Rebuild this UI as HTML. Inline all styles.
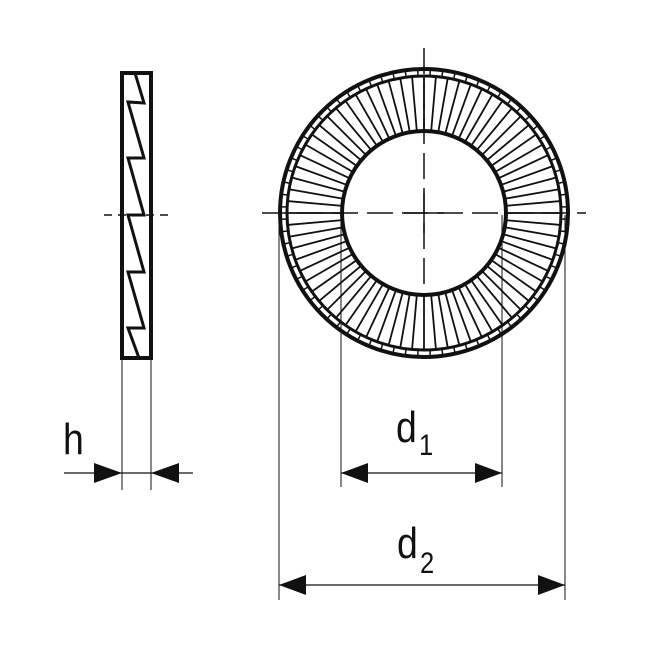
<!DOCTYPE html>
<html><head><meta charset="utf-8"><style>html,body{margin:0;padding:0;background:#fff}svg{display:block}text{font-family:"Liberation Sans",sans-serif;fill:#111}</style></head>
<body>
<svg id="s" width="650" height="650" viewBox="0 0 650 650" xmlns="http://www.w3.org/2000/svg">
<g stroke="#111" fill="none">
<rect x="122" y="73" width="29" height="285" stroke-width="4"/>
<polyline stroke-width="3" points="135,73 144,103 128,102 144,158 128,158 144,215 128,215 144,272 128,272 144,328 128,328 139,358"/>
<line x1="104" y1="215" x2="170" y2="215" stroke-width="1.5" stroke-dasharray="8,6"/>
<line x1="122" y1="360" x2="122" y2="490" stroke-width="1"/>
<line x1="151" y1="360" x2="151" y2="490" stroke-width="1"/>
<line x1="64" y1="473" x2="193" y2="473" stroke-width="1.2"/>
<g id="teeth" stroke-width="1.8"></g>
<g id="ticks" stroke-width="1.5"></g>
<circle cx="424" cy="213" r="144" stroke-width="4"/>
<circle cx="424" cy="213" r="137" stroke-width="3"/>
<circle cx="424" cy="213" r="82" stroke-width="4"/>
<line x1="424" y1="48" x2="424" y2="290" stroke-width="1.5" stroke-dasharray="26,9"/>
<line x1="262" y1="213" x2="586" y2="213" stroke-width="1.5" stroke-dasharray="26,9"/>
<line x1="404" y1="213" x2="444" y2="213" stroke-width="1.5"/>
<line x1="424" y1="193" x2="424" y2="233" stroke-width="1.5"/>
<line x1="341" y1="215" x2="341" y2="487" stroke-width="1"/>
<line x1="502" y1="215" x2="502" y2="487" stroke-width="1"/>
<line x1="279" y1="215" x2="279" y2="600" stroke-width="1"/>
<line x1="565" y1="215" x2="565" y2="600" stroke-width="1"/>
<line x1="341" y1="473" x2="502" y2="473" stroke-width="1.2"/>
<line x1="279" y1="585" x2="565" y2="585" stroke-width="1.2"/>
</g>
<g fill="#111">
<polygon points="122,473 94,463 94,483"/>
<polygon points="151,473 179,463 179,483"/>
<polygon points="341,473 368,463 368,483"/>
<polygon points="502,473 475,463 475,483"/>
<polygon points="279,585 306,575 306,595"/>
<polygon points="565,585 538,575 538,595"/>
</g>
<text x="63" y="454" font-size="44" transform="scale(0.85,1)" transform-origin="63 454">h</text>
<text x="396" y="442" font-size="44" transform="scale(0.85,1)" transform-origin="396 442">d</text>
<text x="419" y="455" font-size="30" transform="scale(0.85,1)" transform-origin="419 455">1</text>
<text x="397" y="558" font-size="44" transform="scale(0.85,1)" transform-origin="397 558">d</text>
<text x="420" y="573" font-size="30" transform="scale(0.85,1)" transform-origin="420 573">2</text>
</svg>
<script>
var g=document.getElementById('teeth'),t=document.getElementById('ticks'),ns='http://www.w3.org/2000/svg';
function ln(p,r1,r2,a){var c=Math.cos(a),s=Math.sin(a),l=document.createElementNS(ns,'line');
l.setAttribute('x1',424+r1*c);l.setAttribute('y1',213+r1*s);l.setAttribute('x2',424+r2*c);l.setAttribute('y2',213+r2*s);p.appendChild(l);}
for(var i=0;i<72;i++){var a=i*5*Math.PI/180;ln(g,82,137,a);ln(t,137,144,a+2.5*Math.PI/180);}
</script>
</body></html>
